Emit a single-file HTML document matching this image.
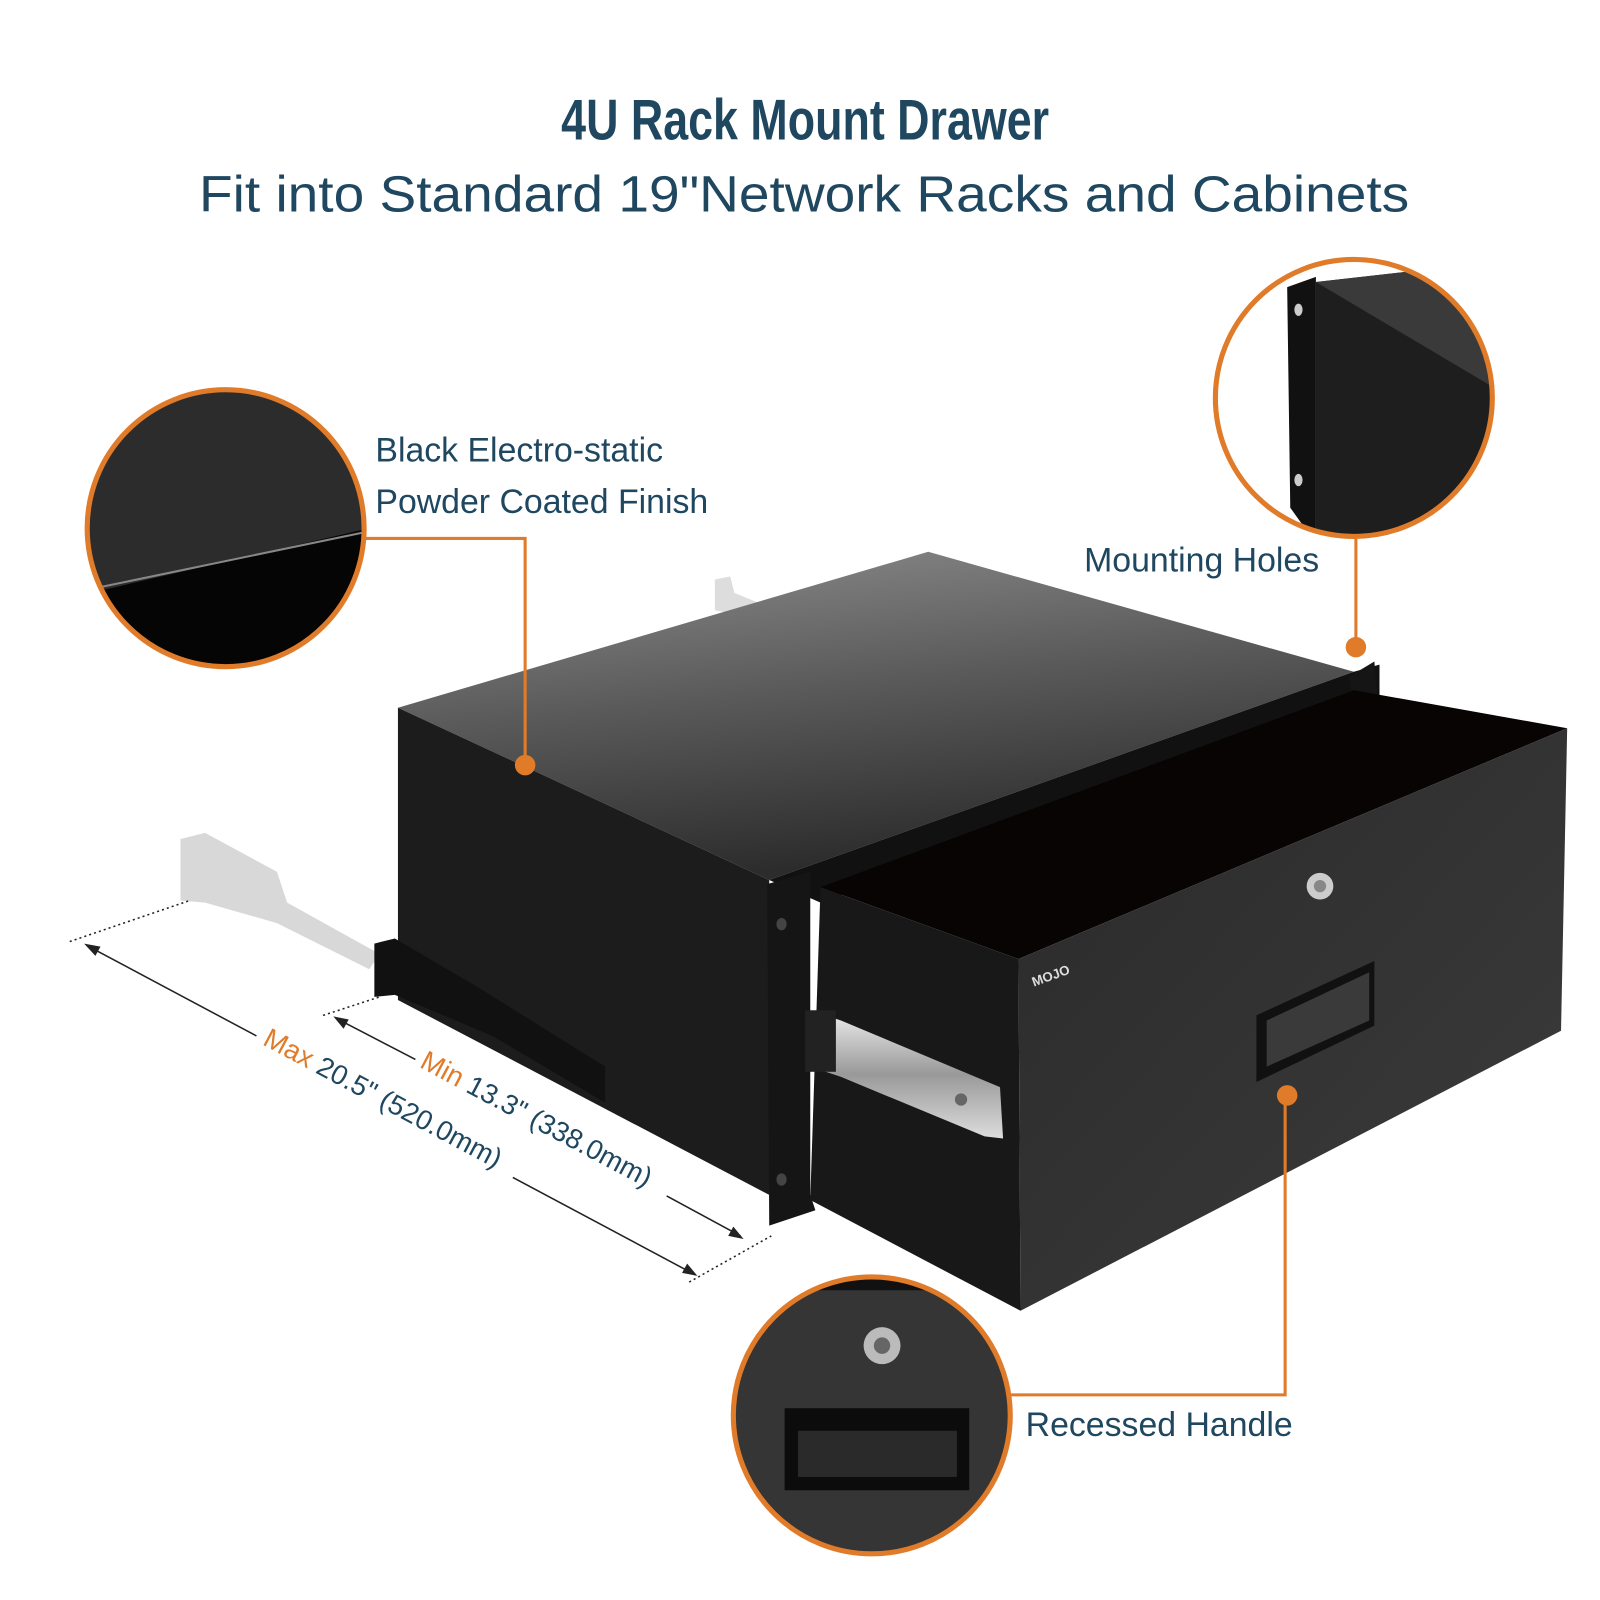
<!DOCTYPE html>
<html><head><meta charset="utf-8"><style>
html,body{margin:0;padding:0;background:#fff;width:1600px;height:1600px;overflow:hidden}
svg{display:block}
text{font-family:"Liberation Sans",sans-serif}
</style></head><body>
<svg width="1600" height="1600" viewBox="0 0 1560 1560" xmlns="http://www.w3.org/2000/svg">
<defs>
<linearGradient id="top" x1="0" y1="0" x2="0.3" y2="1">
<stop offset="0" stop-color="#8e8e8e"/><stop offset="0.5" stop-color="#5a5a5a"/><stop offset="1" stop-color="#2c2c2c"/></linearGradient>
<linearGradient id="front" x1="0" y1="0" x2="1" y2="1">
<stop offset="0" stop-color="#2a2a2a"/><stop offset="1" stop-color="#3c3c3c"/></linearGradient>
<linearGradient id="rail" x1="0" y1="0" x2="0" y2="1">
<stop offset="0" stop-color="#eee"/><stop offset="0.5" stop-color="#999"/><stop offset="1" stop-color="#ddd"/></linearGradient>
<clipPath id="c1"><circle cx="220" cy="515" r="133"/></clipPath>
<clipPath id="c2"><circle cx="1320" cy="388" r="133"/></clipPath>
<clipPath id="c3"><circle cx="850" cy="1380" r="133"/></clipPath>
</defs>

<text x="785" y="136" text-anchor="middle" font-size="56" font-weight="bold" fill="#1f4760" transform="translate(785 0) scale(0.78 1) translate(-785 0)">4U Rack Mount Drawer</text>
<text x="784" y="206" text-anchor="middle" font-size="50" fill="#1f4760" textLength="1180" lengthAdjust="spacingAndGlyphs">Fit into Standard 19"Network Racks and Cabinets</text>

<polygon points="697,565 712,562 716,578 745,590 712,598 697,595" fill="#ddd"/>
<polygon points="176,818 200,812 270,850 280,880 370,930 360,945 270,900 200,880 176,878" fill="#d8d8d8"/>

<polygon points="388,690 905,538 1320,655 750,858" fill="url(#top)"/>
<polygon points="750,858 1320,655 1345,648 1345,690 800,880" fill="#111"/>
<polygon points="388,690 750,858 750,1165 388,975" fill="#1c1c1c"/>
<polygon points="365,920 385,915 470,965 590,1040 590,1075 480,1010 385,970 365,972" fill="#111"/>
<polygon points="748,862 790,850 790,1165 795,1180 750,1195" fill="#151515"/>
<ellipse cx="762" cy="901" rx="5" ry="6" fill="#444"/>
<ellipse cx="762" cy="1150" rx="5" ry="6" fill="#444"/>
<polygon points="1315,660 1340,645 1343,680 1320,690" fill="#151515"/>
<polygon points="800,865 1320,673 1528,710 993,935" fill="#080404"/>
<polygon points="800,865 993,935 995,1278 790,1170" fill="#181818"/>
<polygon points="993,935 1528,710 1522,1005 995,1278" fill="url(#front)"/>
<polygon points="790,985 820,995 975,1060 978,1110 960,1108 820,1050 790,1040" fill="url(#rail)"/>
<rect x="785" y="985" width="30" height="60" fill="#222"/>
<circle cx="937" cy="1072" r="6" fill="#666"/>
<circle cx="1287" cy="864" r="13" fill="#ccc"/><circle cx="1287" cy="864" r="6" fill="#888"/>
<polygon points="1225,990 1340,937 1340,1000 1225,1055" fill="#111"/>
<polygon points="1235,995 1335,948 1335,995 1235,1040" fill="#3a3a3a"/>
<text x="1008" y="962" font-size="13" font-weight="bold" fill="#ddd" transform="rotate(-20 1008 962)">MOJO</text>

<g stroke="#222" stroke-width="1.5" fill="none">
<line x1="68" y1="918" x2="185" y2="878" stroke-dasharray="2,3"/>
<line x1="315" y1="990" x2="370" y2="972" stroke-dasharray="2,3"/>
<line x1="672" y1="1250" x2="752" y2="1205" stroke-dasharray="2,3"/>
<line x1="85" y1="922" x2="250" y2="1010"/>
<line x1="500" y1="1148" x2="678" y2="1243"/>
<line x1="328" y1="993" x2="405" y2="1033"/>
<line x1="650" y1="1166" x2="722" y2="1205"/>
</g>
<polygon points="82,920 98,923 93,932" fill="#222"/>
<polygon points="680,1244 665,1241 670,1232" fill="#222"/>
<polygon points="325,991 340,994 335,1003" fill="#222"/>
<polygon points="725,1208 710,1205 715,1196" fill="#222"/>
<text x="255" y="1018" font-size="27" fill="#1f4760" transform="rotate(28 255 1018)"><tspan fill="#e07b2a">Max</tspan> 20.5" (520.0mm)</text>
<text x="408" y="1040" font-size="27" fill="#1f4760" transform="rotate(28 408 1040)"><tspan fill="#e07b2a">Min</tspan> 13.3" (338.0mm)</text>

<g clip-path="url(#c1)">
<rect x="80" y="370" width="290" height="300" fill="#2c2c2c"/>
<polygon points="80,580 360,515 360,670 80,670" fill="#050505"/>
<line x1="100" y1="572" x2="360" y2="518" stroke="#888" stroke-width="2"/>
</g>
<circle cx="220" cy="515" r="135" fill="none" stroke="#e07b2a" stroke-width="5"/>
<text x="366" y="450" font-size="33" fill="#1f4760">Black Electro-static</text>
<text x="366" y="500" font-size="33" fill="#1f4760">Powder Coated Finish</text>
<polyline points="355,525 512,525 512,745" fill="none" stroke="#e07b2a" stroke-width="3"/>
<circle cx="512" cy="746" r="10" fill="#e07b2a"/>

<g clip-path="url(#c2)">
<rect x="1180" y="250" width="280" height="280" fill="#fff"/>
<polygon points="1283,275 1460,255 1460,530 1283,530" fill="#1e1e1e"/>
<polygon points="1283,275 1460,255 1460,380" fill="#3a3a3a"/>
<polygon points="1255,280 1283,270 1283,530 1258,495" fill="#111"/>
<ellipse cx="1266" cy="302" rx="4" ry="6" fill="#ccc"/>
<ellipse cx="1266" cy="468" rx="4" ry="6" fill="#ccc"/>
</g>
<circle cx="1320" cy="388" r="135" fill="none" stroke="#e07b2a" stroke-width="5"/>
<text x="1057" y="557" font-size="33" fill="#1f4760">Mounting Holes</text>
<line x1="1322" y1="522" x2="1322" y2="630" stroke="#e07b2a" stroke-width="3"/>
<circle cx="1322" cy="631" r="10" fill="#e07b2a"/>

<g clip-path="url(#c3)">
<rect x="710" y="1240" width="280" height="280" fill="#353535"/>
<rect x="710" y="1240" width="280" height="18" fill="#111"/>
<circle cx="860" cy="1312" r="18" fill="#bbb"/><circle cx="860" cy="1312" r="8" fill="#666"/>
<rect x="765" y="1373" width="180" height="80" fill="#0c0c0c"/>
<rect x="778" y="1395" width="155" height="45" fill="#2a2a2a"/>
</g>
<circle cx="850" cy="1380" r="135" fill="none" stroke="#e07b2a" stroke-width="5"/>
<text x="1000" y="1400" font-size="33" fill="#1f4760">Recessed Handle</text>
<polyline points="985,1360 1253,1360 1253,1068" fill="none" stroke="#e07b2a" stroke-width="3"/>
<circle cx="1255" cy="1068" r="10" fill="#e07b2a"/>
</svg>
</body></html>
